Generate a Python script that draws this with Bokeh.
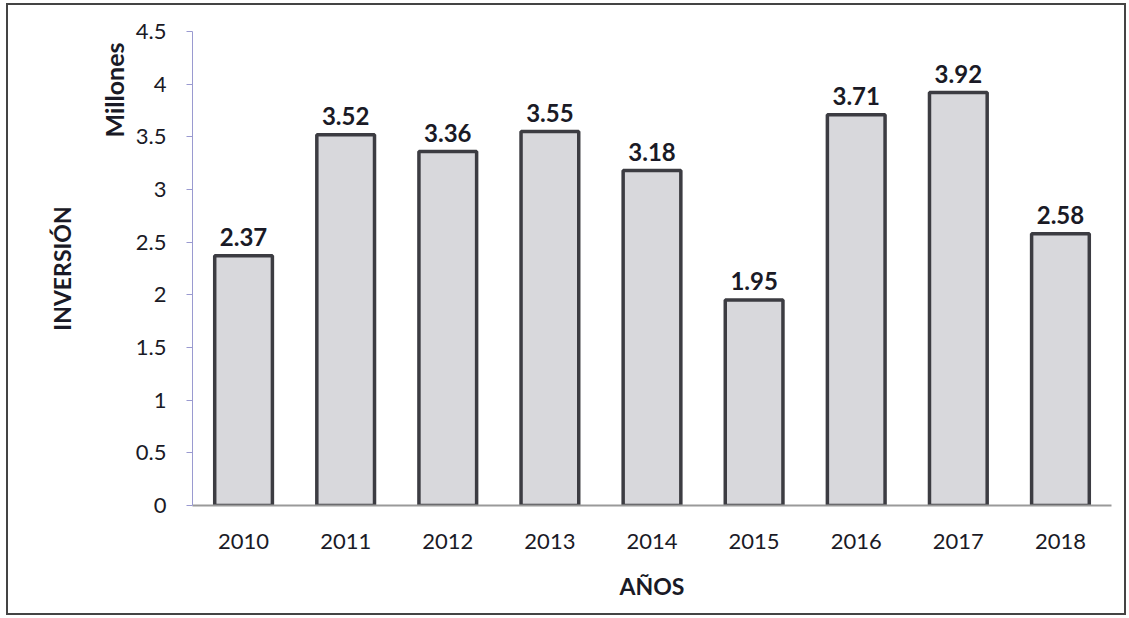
from bokeh.plotting import figure
from bokeh.models import ColumnDataSource, FactorRange, Range1d, FixedTicker, LinearAxis, Title
from bokeh.core.properties import value
from bokeh.embed import file_html
from bokeh.resources import INLINE

years = ["2010", "2011", "2012", "2013", "2014", "2015", "2016", "2017", "2018"]
inversion = [2.37, 3.52, 3.36, 3.55, 3.18, 1.95, 3.71, 3.92, 2.58]
labels = ["2.37", "3.52", "3.36", "3.55", "3.18", "1.95", "3.71", "3.92", "2.58"]
y_ticks = [0, 0.5, 1, 1.5, 2, 2.5, 3, 3.5, 4, 4.5]
y_tick_labels = ["0", "0.5", "1", "1.5", "2", "2.5", "3", "3.5", "4", "4.5"]

FONT = "Lato"
TXT = "#1a1a26"

src = ColumnDataSource(dict(x=years, top=inversion, lab=labels))

p = figure(width=1120, height=612, x_range=FactorRange(factors=years, range_padding=0),
           y_range=Range1d(0, 4.5), output_backend="svg", toolbar_location=None,
           min_border_left=184, min_border_right=17, min_border_top=26, min_border_bottom=112)
p.styles = {"border": "2px solid #444", "margin-left": "6px", "margin-top": "3px"}
p.outline_line_color = None
p.xgrid.grid_line_color = None
p.ygrid.grid_line_color = None

p.vbar(x="x", top="top", width=0.565, source=src, fill_color="#d8d8dc",
       line_color="#3c3c42", line_width=3.5)

p.text(x="x", y="top", text="lab", source=src, text_align="center", text_baseline="alphabetic",
       y_offset=-19, text_font=value(FONT), text_font_style="bold", text_font_size="24px",
       text_color=TXT)

# Y axis (ticks)
ya = p.yaxis[0]
ya.ticker = FixedTicker(ticks=y_ticks)
ya.major_label_overrides = {t: s for t, s in zip(y_ticks, y_tick_labels)}
ya.axis_line_color = "#9a9ad0"
ya.major_tick_line_color = "#9a9ad0"
ya.major_tick_out = 6
ya.major_tick_in = 0
ya.minor_tick_line_color = None
ya.major_label_standoff = 20
ya.major_label_text_font = FONT
ya.major_label_text_font_size = "22px"
ya.major_label_text_color = TXT

# unit label near the top of the y axis
units = Title(text="Millones", align="right", offset=11, standoff=8,
              text_font=FONT, text_font_style="bold", text_font_size="25px",
              text_color=TXT)
p.add_layout(units, "left")

# y axis title
a_title = LinearAxis(ticker=FixedTicker(ticks=[]), axis_line_color=None,
                     major_tick_line_color=None, minor_tick_line_color=None,
                     major_tick_out=0, major_tick_in=0, major_label_standoff=0,
                     axis_label="INVERSIÓN", axis_label_standoff=17,
                     axis_label_text_font=FONT, axis_label_text_font_style="bold",
                     axis_label_text_font_size="23px", axis_label_text_color=TXT)
p.add_layout(a_title, "left")

# X axis
xa = p.xaxis[0]
xa.axis_line_color = "#9a9a9a"
xa.axis_line_width = 2
xa.major_tick_line_color = None
xa.minor_tick_line_color = None
xa.major_label_standoff = 22
xa.major_label_text_font = FONT
xa.major_label_text_font_size = "22px"
xa.major_label_text_color = TXT
xa.axis_label = "AÑOS"
xa.axis_label_text_font = FONT
xa.axis_label_text_font_style = "bold"
xa.axis_label_text_font_size = "23px"
xa.axis_label_text_color = TXT
xa.axis_label_standoff = 20

open("out.html", "w").write(file_html(p, INLINE))
